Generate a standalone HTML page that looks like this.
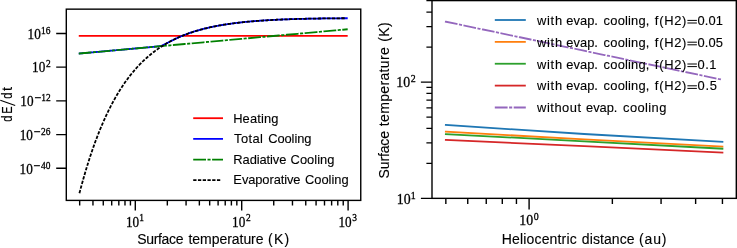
<!DOCTYPE html>
<html><head><meta charset="utf-8"><style>
html,body{margin:0;padding:0;background:#fff;}
svg{display:block;will-change:transform;}
text{fill:#000;stroke:#000;stroke-width:0.12px;}
.tl{stroke-width:0.3px;}
</style></head><body>
<svg width="737" height="248" viewBox="0 0 737 248">
<rect width="737" height="248" fill="#fff"/>
<polyline points="79.67,35.86 346.79,35.86" fill="none" stroke="#ff0000" stroke-width="1.8" stroke-linecap="square" stroke-linejoin="round"/>
<polyline points="79.67,53.51 80.56,53.43 81.45,53.35 82.34,53.27 83.23,53.19 84.12,53.11 85.01,53.03 85.90,52.95 86.79,52.87 87.68,52.79 88.57,52.71 89.46,52.63 90.35,52.55 91.24,52.47 92.13,52.38 93.02,52.30 93.91,52.22 94.80,52.14 95.69,52.06 96.58,51.98 97.47,51.90 98.36,51.82 99.25,51.74 100.15,51.66 101.04,51.58 101.93,51.50 102.82,51.42 103.71,51.34 104.60,51.26 105.49,51.18 106.38,51.10 107.27,51.01 108.16,50.93 109.05,50.85 109.94,50.77 110.83,50.69 111.72,50.61 112.61,50.53 113.50,50.45 114.39,50.37 115.28,50.29 116.17,50.21 117.06,50.13 117.95,50.05 118.84,49.97 119.73,49.89 120.62,49.81 121.51,49.73 122.41,49.64 123.30,49.56 124.19,49.48 125.08,49.40 125.97,49.32 126.86,49.24 127.75,49.16 128.64,49.08 129.53,49.00 130.42,48.92 131.31,48.84 132.20,48.76 133.09,48.68 133.98,48.60 134.87,48.52 135.76,48.44 136.65,48.35 137.54,48.27 138.43,48.19 139.32,48.11 140.21,48.03 141.10,47.95 141.99,47.87 142.88,47.79 143.77,47.71 144.67,47.63 145.56,47.55 146.45,47.47 147.34,47.39 148.23,47.31 149.12,47.23 150.01,47.15 150.90,47.06 151.79,46.98 152.68,46.90 153.57,46.82 154.46,46.73 155.35,46.64 156.24,46.55 157.13,46.44 158.02,46.33 158.91,46.19 159.80,46.02 160.69,45.81 161.58,45.56 162.47,45.25 163.36,44.90 164.25,44.50 165.14,44.08 166.04,43.63 166.93,43.16 167.82,42.69 168.71,42.22 169.60,41.75 170.49,41.29 171.38,40.83 172.27,40.38 173.16,39.93 174.05,39.50 174.94,39.07 175.83,38.64 176.72,38.23 177.61,37.83 178.50,37.43 179.39,37.04 180.28,36.65 181.17,36.28 182.06,35.91 182.95,35.55 183.84,35.19 184.73,34.85 185.62,34.51 186.51,34.17 187.40,33.84 188.30,33.52 189.19,33.21 190.08,32.90 190.97,32.60 191.86,32.30 192.75,32.01 193.64,31.72 194.53,31.44 195.42,31.17 196.31,30.90 197.20,30.63 198.09,30.37 198.98,30.12 199.87,29.87 200.76,29.63 201.65,29.39 202.54,29.15 203.43,28.92 204.32,28.70 205.21,28.48 206.10,28.26 206.99,28.05 207.88,27.84 208.77,27.63 209.67,27.43 210.56,27.24 211.45,27.04 212.34,26.86 213.23,26.67 214.12,26.49 215.01,26.31 215.90,26.14 216.79,25.97 217.68,25.80 218.57,25.63 219.46,25.47 220.35,25.32 221.24,25.16 222.13,25.01 223.02,24.86 223.91,24.71 224.80,24.57 225.69,24.43 226.58,24.29 227.47,24.16 228.36,24.03 229.25,23.90 230.14,23.77 231.03,23.65 231.93,23.53 232.82,23.41 233.71,23.29 234.60,23.18 235.49,23.06 236.38,22.95 237.27,22.85 238.16,22.74 239.05,22.64 239.94,22.53 240.83,22.44 241.72,22.34 242.61,22.24 243.50,22.15 244.39,22.06 245.28,21.97 246.17,21.88 247.06,21.79 247.95,21.71 248.84,21.63 249.73,21.55 250.62,21.47 251.51,21.39 252.40,21.31 253.29,21.24 254.19,21.16 255.08,21.09 255.97,21.02 256.86,20.95 257.75,20.89 258.64,20.82 259.53,20.76 260.42,20.69 261.31,20.63 262.20,20.57 263.09,20.51 263.98,20.45 264.87,20.40 265.76,20.34 266.65,20.29 267.54,20.23 268.43,20.18 269.32,20.13 270.21,20.08 271.10,20.03 271.99,19.98 272.88,19.94 273.77,19.89 274.66,19.84 275.56,19.80 276.45,19.76 277.34,19.72 278.23,19.67 279.12,19.63 280.01,19.59 280.90,19.56 281.79,19.52 282.68,19.48 283.57,19.44 284.46,19.41 285.35,19.38 286.24,19.34 287.13,19.31 288.02,19.28 288.91,19.24 289.80,19.21 290.69,19.18 291.58,19.15 292.47,19.12 293.36,19.10 294.25,19.07 295.14,19.04 296.03,19.02 296.92,18.99 297.82,18.97 298.71,18.94 299.60,18.92 300.49,18.89 301.38,18.87 302.27,18.85 303.16,18.83 304.05,18.81 304.94,18.78 305.83,18.76 306.72,18.74 307.61,18.73 308.50,18.71 309.39,18.69 310.28,18.67 311.17,18.65 312.06,18.64 312.95,18.62 313.84,18.60 314.73,18.59 315.62,18.57 316.51,18.56 317.40,18.54 318.29,18.53 319.19,18.51 320.08,18.50 320.97,18.49 321.86,18.48 322.75,18.46 323.64,18.45 324.53,18.44 325.42,18.43 326.31,18.42 327.20,18.41 328.09,18.40 328.98,18.39 329.87,18.38 330.76,18.37 331.65,18.36 332.54,18.35 333.43,18.34 334.32,18.33 335.21,18.32 336.10,18.32 336.99,18.31 337.88,18.30 338.77,18.29 339.66,18.29 340.55,18.28 341.45,18.27 342.34,18.27 343.23,18.26 344.12,18.25 345.01,18.25 345.90,18.24 346.79,18.24" fill="none" stroke="#0000ff" stroke-width="1.8" stroke-linecap="square" stroke-linejoin="round"/>
<polyline points="79.67,53.51 346.79,29.33" fill="none" stroke="#008000" stroke-width="1.8" stroke-dasharray="11.0 3.3 1.3 3.3" stroke-linecap="square"/>
<polyline points="79.67,192.34 80.56,188.98 81.45,185.69 82.34,182.46 83.23,179.29 84.12,176.18 85.01,173.13 85.90,170.14 86.79,167.20 87.68,164.32 88.57,161.50 89.46,158.73 90.35,156.01 91.24,153.35 92.13,150.74 93.02,148.17 93.91,145.66 94.80,143.19 95.69,140.77 96.58,138.40 97.47,136.07 98.36,133.79 99.25,131.55 100.15,129.36 101.04,127.20 101.93,125.09 102.82,123.01 103.71,120.98 104.60,118.99 105.49,117.03 106.38,115.11 107.27,113.23 108.16,111.39 109.05,109.58 109.94,107.80 110.83,106.06 111.72,104.35 112.61,102.67 113.50,101.03 114.39,99.42 115.28,97.84 116.17,96.28 117.06,94.76 117.95,93.27 118.84,91.81 119.73,90.37 120.62,88.96 121.51,87.58 122.41,86.23 123.30,84.90 124.19,83.60 125.08,82.32 125.97,81.06 126.86,79.83 127.75,78.63 128.64,77.45 129.53,76.28 130.42,75.15 131.31,74.03 132.20,72.94 133.09,71.86 133.98,70.81 134.87,69.78 135.76,68.76 136.65,67.77 137.54,66.79 138.43,65.84 139.32,64.90 140.21,63.98 141.10,63.08 141.99,62.19 142.88,61.33 143.77,60.47 144.67,59.64 145.56,58.82 146.45,58.02 147.34,57.23 148.23,56.46 149.12,55.70 150.01,54.96 150.90,54.23 151.79,53.51 152.68,52.81 153.57,52.13 154.46,51.45 155.35,50.79 156.24,50.14 157.13,49.51 158.02,48.88 158.91,48.27 159.80,47.67 160.69,47.08 161.58,46.50 162.47,45.94 163.36,45.38 164.25,44.84 165.14,44.31 166.04,43.78 166.93,43.27 167.82,42.76 168.71,42.27 169.60,41.79 170.49,41.31 171.38,40.85 172.27,40.39 173.16,39.94 174.05,39.50 174.94,39.07 175.83,38.65 176.72,38.23 177.61,37.83 178.50,37.43 179.39,37.04 180.28,36.65 181.17,36.28 182.06,35.91 182.95,35.55 183.84,35.19 184.73,34.85 185.62,34.51 186.51,34.17 187.40,33.84 188.30,33.52 189.19,33.21 190.08,32.90 190.97,32.60 191.86,32.30 192.75,32.01 193.64,31.72 194.53,31.44 195.42,31.17 196.31,30.90 197.20,30.63 198.09,30.37 198.98,30.12 199.87,29.87 200.76,29.63 201.65,29.39 202.54,29.15 203.43,28.92 204.32,28.70 205.21,28.48 206.10,28.26 206.99,28.05 207.88,27.84 208.77,27.63 209.67,27.43 210.56,27.24 211.45,27.04 212.34,26.86 213.23,26.67 214.12,26.49 215.01,26.31 215.90,26.14 216.79,25.97 217.68,25.80 218.57,25.63 219.46,25.47 220.35,25.32 221.24,25.16 222.13,25.01 223.02,24.86 223.91,24.71 224.80,24.57 225.69,24.43 226.58,24.29 227.47,24.16 228.36,24.03 229.25,23.90 230.14,23.77 231.03,23.65 231.93,23.53 232.82,23.41 233.71,23.29 234.60,23.18 235.49,23.06 236.38,22.95 237.27,22.85 238.16,22.74 239.05,22.64 239.94,22.53 240.83,22.44 241.72,22.34 242.61,22.24 243.50,22.15 244.39,22.06 245.28,21.97 246.17,21.88 247.06,21.79 247.95,21.71 248.84,21.63 249.73,21.55 250.62,21.47 251.51,21.39 252.40,21.31 253.29,21.24 254.19,21.16 255.08,21.09 255.97,21.02 256.86,20.95 257.75,20.89 258.64,20.82 259.53,20.76 260.42,20.69 261.31,20.63 262.20,20.57 263.09,20.51 263.98,20.45 264.87,20.40 265.76,20.34 266.65,20.29 267.54,20.23 268.43,20.18 269.32,20.13 270.21,20.08 271.10,20.03 271.99,19.98 272.88,19.94 273.77,19.89 274.66,19.84 275.56,19.80 276.45,19.76 277.34,19.72 278.23,19.67 279.12,19.63 280.01,19.59 280.90,19.56 281.79,19.52 282.68,19.48 283.57,19.44 284.46,19.41 285.35,19.38 286.24,19.34 287.13,19.31 288.02,19.28 288.91,19.24 289.80,19.21 290.69,19.18 291.58,19.15 292.47,19.12 293.36,19.10 294.25,19.07 295.14,19.04 296.03,19.02 296.92,18.99 297.82,18.97 298.71,18.94 299.60,18.92 300.49,18.89 301.38,18.87 302.27,18.85 303.16,18.83 304.05,18.81 304.94,18.78 305.83,18.76 306.72,18.74 307.61,18.73 308.50,18.71 309.39,18.69 310.28,18.67 311.17,18.65 312.06,18.64 312.95,18.62 313.84,18.60 314.73,18.59 315.62,18.57 316.51,18.56 317.40,18.54 318.29,18.53 319.19,18.51 320.08,18.50 320.97,18.49 321.86,18.48 322.75,18.46 323.64,18.45 324.53,18.44 325.42,18.43 326.31,18.42 327.20,18.41 328.09,18.40 328.98,18.39 329.87,18.38 330.76,18.37 331.65,18.36 332.54,18.35 333.43,18.34 334.32,18.33 335.21,18.32 336.10,18.32 336.99,18.31 337.88,18.30 338.77,18.29 339.66,18.29 340.55,18.28 341.45,18.27 342.34,18.27 343.23,18.26 344.12,18.25 345.01,18.25 345.90,18.24 346.79,18.24" fill="none" stroke="#000000" stroke-width="1.8" stroke-dasharray="1.5 3.25" stroke-linecap="square"/>
<polyline points="445.84,125.00 584.14,134.00 722.44,141.90" fill="none" stroke="#1f77b4" stroke-width="1.8" stroke-linecap="square" stroke-linejoin="round"/>
<polyline points="445.84,131.70 584.14,139.30 722.44,146.60" fill="none" stroke="#ff7f0e" stroke-width="1.8" stroke-linecap="square" stroke-linejoin="round"/>
<polyline points="445.84,134.10 584.14,141.30 722.44,148.70" fill="none" stroke="#2ca02c" stroke-width="1.8" stroke-linecap="square" stroke-linejoin="round"/>
<polyline points="445.84,139.90 584.14,146.10 722.44,152.60" fill="none" stroke="#d62728" stroke-width="1.8" stroke-linecap="square" stroke-linejoin="round"/>
<polyline points="445.84,21.70 722.44,79.80" fill="none" stroke="#9467bd" stroke-width="1.8" stroke-dasharray="11.0 3.3 1.3 3.3" stroke-linecap="square"/>
<rect x="66.3" y="9.15" width="294.45" height="191.25" fill="none" stroke="#000" stroke-width="1.4"/>
<rect x="432.0" y="0.6" width="304.30" height="197.75" fill="none" stroke="#000" stroke-width="1.4"/>
<path d="M79.67,200.40v5.20M92.96,200.40v5.20M103.27,200.40v5.20M111.70,200.40v5.20M118.82,200.40v5.20M124.99,200.40v5.20M130.43,200.40v5.20M135.30,200.40v10.10M167.33,200.40v5.20M186.07,200.40v5.20M199.36,200.40v5.20M209.67,200.40v5.20M218.10,200.40v5.20M225.22,200.40v5.20M231.39,200.40v5.20M236.83,200.40v5.20M241.70,200.40v10.10M273.73,200.40v5.20M292.47,200.40v5.20M305.76,200.40v5.20M316.07,200.40v5.20M324.50,200.40v5.20M331.62,200.40v5.20M337.79,200.40v5.20M343.23,200.40v5.20M348.10,200.40v10.10M66.30,33.45h-10.10M66.30,67.16h-10.10M66.30,100.87h-10.10M66.30,134.59h-10.10M66.30,168.30h-10.10M445.84,198.35v5.60M467.74,198.35v5.60M486.25,198.35v5.60M502.29,198.35v5.60M516.44,198.35v5.60M529.10,198.35v11.10M612.36,198.35v5.60M661.07,198.35v5.60M695.63,198.35v5.60M722.44,198.35v5.60M432.00,198.35h-11.10M432.00,163.36h-5.60M432.00,142.88h-5.60M432.00,128.36h-5.60M432.00,117.09h-5.60M432.00,107.89h-5.60M432.00,100.11h-5.60M432.00,93.37h-5.60M432.00,87.42h-5.60M432.00,82.10h-11.10M432.00,47.11h-5.60M432.00,26.63h-5.60M432.00,12.11h-5.60M432.00,0.55h-5.60" stroke="#000" stroke-width="1.4" fill="none"/>
<text transform="translate(27.54 38.75) scale(0.93 1)" class="tl" style="font-family:'Liberation Serif',serif;font-size:14.2px">10</text>
<text transform="translate(40.97 33.65) scale(0.97 1)" class="tl" style="font-family:'Liberation Serif',serif;font-size:9.7px">16</text>
<text transform="translate(32.06 72.46) scale(0.93 1)" class="tl" style="font-family:'Liberation Serif',serif;font-size:14.2px">10</text>
<text transform="translate(45.91 67.36) scale(0.97 1)" class="tl" style="font-family:'Liberation Serif',serif;font-size:9.7px">2</text>
<text transform="translate(20.34 106.17) scale(0.93 1)" class="tl" style="font-family:'Liberation Serif',serif;font-size:14.2px">10</text>
<text transform="translate(34.41 101.37) scale(1.25 1)" class="tl" style="font-family:'Liberation Serif',serif;font-size:9.7px">−</text>
<text transform="translate(41.21 101.07) scale(0.97 1)" class="tl" style="font-family:'Liberation Serif',serif;font-size:9.7px">12</text>
<text transform="translate(19.68 139.89) scale(0.93 1)" class="tl" style="font-family:'Liberation Serif',serif;font-size:14.2px">10</text>
<text transform="translate(33.75 135.09) scale(1.25 1)" class="tl" style="font-family:'Liberation Serif',serif;font-size:9.7px">−</text>
<text transform="translate(40.97 134.79) scale(0.97 1)" class="tl" style="font-family:'Liberation Serif',serif;font-size:9.7px">26</text>
<text transform="translate(19.54 173.60) scale(0.93 1)" class="tl" style="font-family:'Liberation Serif',serif;font-size:14.2px">10</text>
<text transform="translate(33.61 168.80) scale(1.25 1)" class="tl" style="font-family:'Liberation Serif',serif;font-size:9.7px">−</text>
<text transform="translate(41.07 168.50) scale(0.97 1)" class="tl" style="font-family:'Liberation Serif',serif;font-size:9.7px">40</text>
<text transform="translate(125.92 226.60) scale(0.93 1)" class="tl" style="font-family:'Liberation Serif',serif;font-size:14.2px">10</text>
<text transform="translate(139.35 220.60) scale(0.97 1)" class="tl" style="font-family:'Liberation Serif',serif;font-size:9.7px">1</text>
<text transform="translate(232.09 226.60) scale(0.93 1)" class="tl" style="font-family:'Liberation Serif',serif;font-size:14.2px">10</text>
<text transform="translate(245.94 220.60) scale(0.97 1)" class="tl" style="font-family:'Liberation Serif',serif;font-size:9.7px">2</text>
<text transform="translate(338.44 226.60) scale(0.93 1)" class="tl" style="font-family:'Liberation Serif',serif;font-size:14.2px">10</text>
<text transform="translate(352.25 220.60) scale(0.97 1)" class="tl" style="font-family:'Liberation Serif',serif;font-size:9.7px">3</text>
<text transform="translate(519.35 225.20) scale(0.93 1)" class="tl" style="font-family:'Liberation Serif',serif;font-size:14.9px">10</text>
<text transform="translate(533.85 219.60) scale(0.97 1)" class="tl" style="font-family:'Liberation Serif',serif;font-size:10.2px">0</text>
<text transform="translate(396.83 203.65) scale(0.93 1)" class="tl" style="font-family:'Liberation Serif',serif;font-size:14.9px">10</text>
<text transform="translate(410.85 198.55) scale(0.97 1)" class="tl" style="font-family:'Liberation Serif',serif;font-size:10.2px">1</text>
<text transform="translate(396.34 87.40) scale(0.93 1)" class="tl" style="font-family:'Liberation Serif',serif;font-size:14.9px">10</text>
<text transform="translate(410.80 82.30) scale(0.97 1)" class="tl" style="font-family:'Liberation Serif',serif;font-size:10.2px">2</text>
<text x="137.17" y="243.60" textLength="46.37" lengthAdjust="spacing" style="font-family:'Liberation Sans',sans-serif;font-size:14.0px">Surface</text>
<text x="188.49" y="243.60" textLength="75.05" lengthAdjust="spacing" style="font-family:'Liberation Sans',sans-serif;font-size:14.0px">temperature</text>
<text x="267.96" y="243.60" textLength="21.32" lengthAdjust="spacing" style="font-family:'Liberation Sans',sans-serif;font-size:14.0px">(K)</text>
<text x="501.68" y="243.80" textLength="75.07" lengthAdjust="spacing" style="font-family:'Liberation Sans',sans-serif;font-size:14.0px">Heliocentric</text>
<text x="581.84" y="243.80" textLength="52.70" lengthAdjust="spacing" style="font-family:'Liberation Sans',sans-serif;font-size:14.0px">distance</text>
<text x="639.06" y="243.80" textLength="27.42" lengthAdjust="spacing" style="font-family:'Liberation Sans',sans-serif;font-size:14.0px">(au)</text>
<text transform="translate(11.8 121.84) rotate(-90) scale(0.76 1)" style="font-family:'Liberation Sans',sans-serif;font-size:14.5px">d</text>
<text transform="translate(11.8 113.78) rotate(-90) scale(0.76 1)" style="font-family:'Liberation Sans',sans-serif;font-size:14.5px">E</text>
<text transform="translate(11.8 98.74) rotate(-90) scale(0.76 1)" style="font-family:'Liberation Sans',sans-serif;font-size:14.5px">d</text>
<text transform="translate(11.8 90.92) rotate(-90) scale(1.0 1)" style="font-family:'Liberation Sans',sans-serif;font-size:14.5px">t</text>
<path d="M0.3,100.2L15.2,105.5" stroke="#000" stroke-width="1.05" fill="none"/>
<text x="0" y="0" transform="translate(388.90 178.43) rotate(-90)" textLength="47.47" lengthAdjust="spacing" style="font-family:'Liberation Sans',sans-serif;font-size:14.0px">Surface</text>
<text x="0" y="0" transform="translate(388.90 126.21) rotate(-90)" textLength="78.95" lengthAdjust="spacing" style="font-family:'Liberation Sans',sans-serif;font-size:14.0px">temperature</text>
<text x="0" y="0" transform="translate(388.90 41.84) rotate(-90)" textLength="19.52" lengthAdjust="spacing" style="font-family:'Liberation Sans',sans-serif;font-size:14.0px">(K)</text>
<line x1="194.1" y1="118.20" x2="222.1" y2="118.20" stroke="#ff0000" stroke-width="1.8" stroke-linecap="square" stroke-linejoin="round"/>
<text x="233.17" y="122.80" textLength="45.28" lengthAdjust="spacing" style="font-family:'Liberation Sans',sans-serif;font-size:12.9px">Heating</text>
<line x1="194.1" y1="138.87" x2="222.1" y2="138.87" stroke="#0000ff" stroke-width="1.8" stroke-linecap="square" stroke-linejoin="round"/>
<text x="234.08" y="143.33" textLength="28.77" lengthAdjust="spacing" style="font-family:'Liberation Sans',sans-serif;font-size:12.9px">Total</text>
<text x="268.16" y="143.33" textLength="43.30" lengthAdjust="spacing" style="font-family:'Liberation Sans',sans-serif;font-size:12.9px">Cooling</text>
<line x1="194.1" y1="159.54" x2="222.1" y2="159.54" stroke="#008000" stroke-width="1.8" stroke-dasharray="11.0 3.3 1.3 3.3" stroke-linecap="square"/>
<text x="233.37" y="163.86" textLength="52.93" lengthAdjust="spacing" style="font-family:'Liberation Sans',sans-serif;font-size:12.9px">Radiative</text>
<text x="290.56" y="163.86" textLength="43.90" lengthAdjust="spacing" style="font-family:'Liberation Sans',sans-serif;font-size:12.9px">Cooling</text>
<line x1="194.1" y1="180.21" x2="222.1" y2="180.21" stroke="#000000" stroke-width="1.8" stroke-dasharray="1.5 3.25" stroke-linecap="square"/>
<text x="233.37" y="184.39" textLength="67.13" lengthAdjust="spacing" style="font-family:'Liberation Sans',sans-serif;font-size:12.9px">Evaporative</text>
<text x="304.96" y="184.39" textLength="43.70" lengthAdjust="spacing" style="font-family:'Liberation Sans',sans-serif;font-size:12.9px">Cooling</text>
<line x1="495.7" y1="20.00" x2="524.9" y2="20.00" stroke="#1f77b4" stroke-width="1.8" stroke-linecap="square" stroke-linejoin="round"/>
<text x="537.00" y="24.90" textLength="25.05" lengthAdjust="spacing" style="font-family:'Liberation Sans',sans-serif;font-size:12.9px">with</text>
<text x="566.32" y="24.90" textLength="31.58" lengthAdjust="spacing" style="font-family:'Liberation Sans',sans-serif;font-size:12.9px">evap.</text>
<text x="603.62" y="24.90" textLength="45.82" lengthAdjust="spacing" style="font-family:'Liberation Sans',sans-serif;font-size:12.9px">cooling,</text>
<text x="654.80" y="24.90" text-anchor="start" textLength="31.6" lengthAdjust="spacing" style="font-family:'Liberation Sans',sans-serif;font-size:12.9px">f(H2)</text>
<path d="M687.4,20.40H696.9M687.4,23.00H696.9" stroke="#000" stroke-width="1.0" fill="none"/>
<text x="697.60" y="24.90" text-anchor="start" textLength="25.4" lengthAdjust="spacing" style="font-family:'Liberation Sans',sans-serif;font-size:12.9px">0.01</text>
<line x1="495.7" y1="41.87" x2="524.9" y2="41.87" stroke="#ff7f0e" stroke-width="1.8" stroke-linecap="square" stroke-linejoin="round"/>
<text x="537.00" y="46.70" textLength="25.05" lengthAdjust="spacing" style="font-family:'Liberation Sans',sans-serif;font-size:12.9px">with</text>
<text x="566.32" y="46.70" textLength="31.58" lengthAdjust="spacing" style="font-family:'Liberation Sans',sans-serif;font-size:12.9px">evap.</text>
<text x="603.62" y="46.70" textLength="45.82" lengthAdjust="spacing" style="font-family:'Liberation Sans',sans-serif;font-size:12.9px">cooling,</text>
<text x="654.80" y="46.70" text-anchor="start" textLength="31.6" lengthAdjust="spacing" style="font-family:'Liberation Sans',sans-serif;font-size:12.9px">f(H2)</text>
<path d="M687.4,42.20H696.9M687.4,44.80H696.9" stroke="#000" stroke-width="1.0" fill="none"/>
<text x="697.60" y="46.70" text-anchor="start" textLength="25.4" lengthAdjust="spacing" style="font-family:'Liberation Sans',sans-serif;font-size:12.9px">0.05</text>
<line x1="495.7" y1="63.74" x2="524.9" y2="63.74" stroke="#2ca02c" stroke-width="1.8" stroke-linecap="square" stroke-linejoin="round"/>
<text x="537.00" y="68.50" textLength="25.05" lengthAdjust="spacing" style="font-family:'Liberation Sans',sans-serif;font-size:12.9px">with</text>
<text x="566.32" y="68.50" textLength="31.58" lengthAdjust="spacing" style="font-family:'Liberation Sans',sans-serif;font-size:12.9px">evap.</text>
<text x="603.62" y="68.50" textLength="45.82" lengthAdjust="spacing" style="font-family:'Liberation Sans',sans-serif;font-size:12.9px">cooling,</text>
<text x="654.80" y="68.50" text-anchor="start" textLength="31.6" lengthAdjust="spacing" style="font-family:'Liberation Sans',sans-serif;font-size:12.9px">f(H2)</text>
<path d="M687.4,64.00H696.9M687.4,66.60H696.9" stroke="#000" stroke-width="1.0" fill="none"/>
<text x="697.60" y="68.50" text-anchor="start" textLength="18.9" lengthAdjust="spacing" style="font-family:'Liberation Sans',sans-serif;font-size:12.9px">0.1</text>
<line x1="495.7" y1="85.61" x2="524.9" y2="85.61" stroke="#d62728" stroke-width="1.8" stroke-linecap="square" stroke-linejoin="round"/>
<text x="537.00" y="90.30" textLength="25.05" lengthAdjust="spacing" style="font-family:'Liberation Sans',sans-serif;font-size:12.9px">with</text>
<text x="566.32" y="90.30" textLength="31.58" lengthAdjust="spacing" style="font-family:'Liberation Sans',sans-serif;font-size:12.9px">evap.</text>
<text x="603.62" y="90.30" textLength="45.82" lengthAdjust="spacing" style="font-family:'Liberation Sans',sans-serif;font-size:12.9px">cooling,</text>
<text x="654.80" y="90.30" text-anchor="start" textLength="31.6" lengthAdjust="spacing" style="font-family:'Liberation Sans',sans-serif;font-size:12.9px">f(H2)</text>
<path d="M687.4,85.80H696.9M687.4,88.40H696.9" stroke="#000" stroke-width="1.0" fill="none"/>
<text x="697.60" y="90.30" text-anchor="start" textLength="19.4" lengthAdjust="spacing" style="font-family:'Liberation Sans',sans-serif;font-size:12.9px">0.5</text>
<line x1="495.7" y1="107.48" x2="524.9" y2="107.48" stroke="#9467bd" stroke-width="1.8" stroke-dasharray="11.0 3.3 1.3 3.3" stroke-linecap="square"/>
<text x="537.10" y="112.10" textLength="43.90" lengthAdjust="spacing" style="font-family:'Liberation Sans',sans-serif;font-size:12.9px">without</text>
<text x="586.12" y="112.10" textLength="31.28" lengthAdjust="spacing" style="font-family:'Liberation Sans',sans-serif;font-size:12.9px">evap.</text>
<text x="623.02" y="112.10" textLength="43.33" lengthAdjust="spacing" style="font-family:'Liberation Sans',sans-serif;font-size:12.9px">cooling</text>
</svg>
</body></html>
